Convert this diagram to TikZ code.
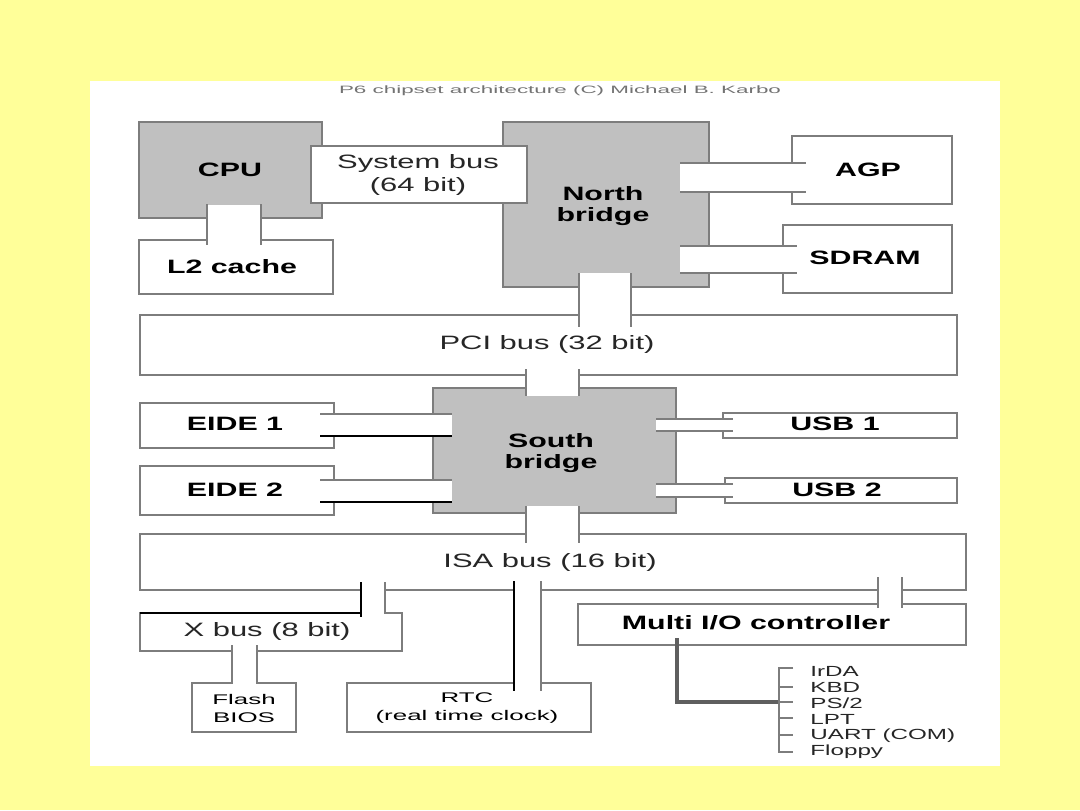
\documentclass[tikz,border=0pt]{standalone}
\usepackage{fontspec}
\setmainfont{Liberation Sans}
\usetikzlibrary{fit}
\definecolor{bgyel}{RGB}{255,255,153}
\definecolor{chipgray}{RGB}{192,192,192}
\definecolor{edgegray}{RGB}{125,125,125}
\definecolor{wiregray}{RGB}{95,95,95}
\begin{document}
\begin{tikzpicture}[x=0.75pt,y=-0.75pt,
  wbox/.style={draw=edgegray, fill=white, line width=1.1pt, inner sep=0pt, outer sep=0pt},
  gbox/.style={wbox, fill=chipgray},
  ln/.style={draw=edgegray, line width=1.1pt},
  bln/.style={draw=black, line width=1.4pt},
  blab/.style={font=\fontsize{14.5}{16}\selectfont\bfseries, xscale=1.57, text=black, inner sep=0pt, align=center},
  rlab/.style={font=\fontsize{14.5}{17}\selectfont, xscale=1.6, text=black!85, inner sep=0pt, align=center},
  slab/.style={font=\fontsize{10.5}{13.5}\selectfont, xscale=1.85, text=black, inner sep=0pt, align=center},
  llab/.style={font=\fontsize{11}{12}\selectfont, xscale=1.65, text=black!85, inner sep=0pt, anchor=west},
  ttl/.style={font=\fontsize{8}{9}\selectfont, xscale=2.1, text=black!55, inner sep=0pt}
]
\useasboundingbox (0,0) rectangle (1080,810);
\fill[bgyel] (0,0) rectangle (1080,810);
\fill[white] (90,81) rectangle (1000,766);

% boxes
\node[gbox, fit={(139,122)(322,218)}] (cpu) {};
\node[wbox, fit={(139,240)(333,294)}] (l2) {};
\node[gbox, fit={(503,122)(709,287)}] (nb) {};
\node[wbox, fit={(792,136)(952,204)}] (agp) {};
\node[wbox, fit={(783,225)(952,293)}] (sdram) {};
\node[wbox, fit={(311,146)(527,203)}] (sysbus) {};
\node[wbox, fit={(140,315)(957,375)}] (pci) {};
\node[gbox, fit={(433,388)(676,513)}] (sb) {};
\node[wbox, fit={(140,403)(334,448)}] (eide1) {};
\node[wbox, fit={(140,466)(334,515)}] (eide2) {};
\node[wbox, fit={(723,413)(957,438)}] (usb1) {};
\node[wbox, fit={(725,478)(957,503)}] (usb2) {};
\node[wbox, fit={(140,534)(966,590)}] (isa) {};
\node[wbox, fit={(140,613)(402,651)}] (xbus) {};
\node[wbox, fit={(578,604)(966,645)}] (mio) {};
\node[wbox, fit={(192,683)(296,732)}] (flash) {};
\node[wbox, fit={(347,683)(591,732)}] (rtc) {};

% CPU - L2
\fill[white] (207.5,205) rectangle (260.5,241.5);
\draw[ln] (207,204) -- (207,245);
\draw[ln] (261,204) -- (261,245);
% NB - AGP
\fill[white] (680,163.5) rectangle (793,191.5);
\draw[ln] (680,163) -- (806,163);
\draw[ln] (680,192) -- (806,192);
% NB - SDRAM
\fill[white] (680,246.5) rectangle (784,272.5);
\draw[ln] (680,246) -- (797,246);
\draw[ln] (680,273) -- (797,273);
% NB - PCI
\fill[white] (579.5,273) rectangle (630.5,316.5);
\draw[ln] (579,273) -- (579,327);
\draw[ln] (631,273) -- (631,327);
% PCI - SB
\fill[white] (526.5,373) rectangle (578.5,396);
\draw[ln] (526,369) -- (526,396);
\draw[ln] (579,369) -- (579,396);
% EIDE - SB
\fill[white] (333,414.5) rectangle (452,435.5);
\draw[ln] (320,414) -- (452,414);
\draw[bln] (320,436) -- (452,436);
\fill[white] (333,480.5) rectangle (452,501.5);
\draw[ln] (320,480) -- (452,480);
\draw[bln] (320,502) -- (452,502);
% SB - USB
\fill[white] (656,419.5) rectangle (724,430.5);
\draw[ln] (656,419) -- (733,419);
\draw[ln] (656,431) -- (733,431);
\fill[white] (656,484.5) rectangle (726,496.5);
\draw[ln] (656,484) -- (733,484);
\draw[ln] (656,497) -- (733,497);
% SB - ISA
\fill[white] (526.5,506) rectangle (578.5,540);
\draw[ln] (526,506) -- (526,543);
\draw[ln] (579,506) -- (579,543);
% ISA - X bus
\fill[white] (361.5,588) rectangle (384.5,614.5);
\draw[bln] (140,613) -- (361,613);
\draw[bln] (361,582) -- (361,617);
\draw[ln] (385,582) -- (385,613) -- (402,613);
% ISA - RTC
\fill[white] (514.5,588) rectangle (540.5,684.5);
\draw[bln] (514,581) -- (514,691);
\draw[ln] (541,581) -- (541,691);
% X bus - Flash
\fill[white] (232.5,650) rectangle (256.5,684.5);
\draw[ln] (232,645) -- (232,684);
\draw[ln] (257,645) -- (257,684);
% ISA - Multi I/O
\fill[white] (878.5,588) rectangle (901.5,605.5);
\draw[ln] (878,577) -- (878,608);
\draw[ln] (902,577) -- (902,608);
% Multi I/O - ports
\coordinate (tap) at (677,638);
\coordinate (hub) at (779,702);
\draw[draw=wiregray, line width=2.4pt] (tap) |- (hub);
\draw[ln] (793,668) -- (779,668) -- (779,752) -- (793,752);
\foreach \yy in {687,702,718,735} \draw[ln] (779,\yy) -- (793,\yy);

% texts
\node[ttl] (title) at (560,91) {P6 chipset architecture (C) Michael B. Karbo};
\node[blab] (tcpu) at (230,170) {CPU};
\node[blab] (tl2) at (232,267) {L2 cache};
\node[rlab] (tsys) at (418,175) {System bus\\(64 bit)};
\node[blab] (tnb) at (603,206) {North\\bridge};
\node[blab] (tsd) at (865,258) {SDRAM};
\node[blab] (tagp) at (868,170) {AGP};
\node[rlab] (tpci) at (547,344) {PCI bus (32 bit)};
\node[blab] (tsb) at (551,453) {South\\bridge};
\node[blab] (te1) at (235,424) {EIDE 1};
\node[blab] (te2) at (235,490) {EIDE 2};
\node[blab] (tu1) at (835,424) {USB 1};
\node[blab] (tu2) at (837,490) {USB 2};
\node[rlab] (tisa) at (550,562) {ISA bus (16 bit)};
\node[rlab] (tx) at (267,631) {X bus (8 bit)};
\node[blab] (tmio) at (756,623) {Multi I/O controller};
\node[slab] (tfl) at (244,708) {Flash\\BIOS};
\node[slab] (trtc) at (467,708) {RTC\\(real time clock)};
\node[llab] (p1) at (810,671) {IrDA};
\node[llab] (p2) at (810,687) {KBD};
\node[llab] (p3) at (810,703) {PS/2};
\node[llab] (p4) at (810,719) {LPT};
\node[llab] (p5) at (810,736) {UART (COM)};
\node[llab] (p6) at (810,752) {Floppy};
\end{tikzpicture}
\end{document}
